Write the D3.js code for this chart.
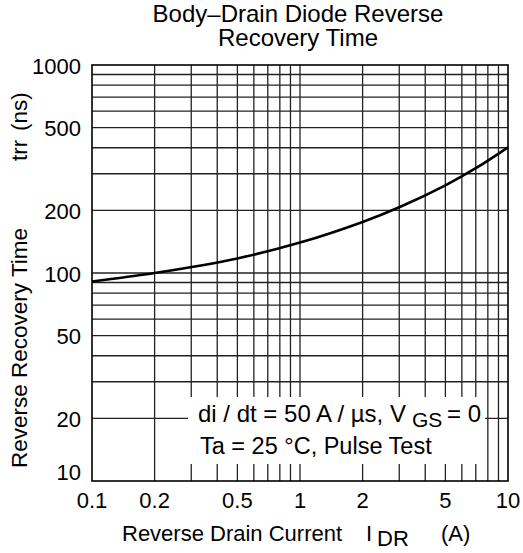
<!DOCTYPE html>
<html>
<head>
<meta charset="utf-8">
<script src="https://cdn.jsdelivr.net/npm/d3@7"></script>
<style>
  body { margin: 0; background: #fff; }
  svg text { font-family: 'Liberation Sans', Arial, sans-serif; fill: #000; white-space: pre; }
</style>
</head>
<body>
<div id="chart"></div>
<script>
// reverse drain current (A) vs reverse recovery time (ns)
const idr = [0.1, 0.2, 0.5, 1, 2, 3, 5, 7, 10]
const trr = [91, 100, 117.5, 140, 176, 207, 264, 319, 402]

const xTickValues = [0.1, 0.2, 0.5, 1, 2, 5, 10]
const yTickValues = [10, 20, 50, 100, 200, 500, 1000]

const width = 523
const height = 553
const plot = { left: 92, right: 508, top: 65, bottom: 481 }

const svg = d3.select('#chart').append('svg')
  .attr('width', width)
  .attr('height', height)

const x = d3.scaleLog().domain([0.1, 10]).range([plot.left, plot.right])
const y = d3.scaleLog().domain([10, 1000]).range([plot.bottom, plot.top])

// grid
const grid = svg.append('g').attr('stroke', '#222').attr('stroke-width', 1.3)
x.ticks().filter(v => v > 0.1 && v < 10).forEach(v => {
  grid.append('line').attr('x1', x(v)).attr('x2', x(v)).attr('y1', plot.top).attr('y2', plot.bottom)
})
y.ticks().filter(v => v > 10 && v < 1000).forEach(v => {
  grid.append('line').attr('y1', y(v)).attr('y2', y(v)).attr('x1', plot.left).attr('x2', plot.right)
})

// curve
const line = d3.line()
  .x((d, i) => x(idr[i]))
  .y(d => y(d))
  .curve(d3.curveCatmullRom.alpha(0.5))
svg.append('path')
  .datum(trr)
  .attr('d', line)
  .attr('fill', 'none')
  .attr('stroke', '#000')
  .attr('stroke-width', 2.6)

// box behind the conditions text
svg.append('rect')
  .attr('x', 188).attr('y', 397)
  .attr('width', 297).attr('height', 67)
  .attr('fill', '#fff')

svg.append('rect')
  .attr('x', plot.left).attr('y', plot.top)
  .attr('width', plot.right - plot.left).attr('height', plot.bottom - plot.top)
  .attr('fill', 'none').attr('stroke', '#000').attr('stroke-width', 1.6)

const tickFs = 22

// tick labels
svg.append('g').selectAll('text').data(xTickValues).join('text')
  .attr('x', d => x(d)).attr('y', 508)
  .attr('text-anchor', 'middle').attr('font-size', tickFs)
  .text(d => d)

svg.append('g').selectAll('text').data(yTickValues).join('text')
  .attr('x', 81).attr('y', d => y(d) + (d === 10 ? -9 : 1))
  .attr('dy', '0.35em')
  .attr('text-anchor', 'end').attr('font-size', tickFs)
  .text(d => d)

// title
svg.append('text').attr('x', 298).attr('y', 22).attr('text-anchor', 'middle').attr('font-size', 24)
  .text('Body\u2013Drain Diode Reverse')
svg.append('text').attr('x', 298).attr('y', 46).attr('text-anchor', 'middle').attr('font-size', 24)
  .text('Recovery Time')

// x label
svg.append('text').attr('x', 122).attr('y', 541).attr('font-size', 22).text('Reverse Drain Current')
svg.append('text').attr('x', 366).attr('y', 541).attr('font-size', 22).text('I')
svg.append('text').attr('x', 377).attr('y', 546).attr('font-size', 22).text('DR')
svg.append('text').attr('x', 441).attr('y', 541).attr('font-size', 22).text('(A)')

// y label
const yl = svg.append('g').attr('transform', 'translate(27,0) rotate(-90)')
yl.append('text').attr('x', -468).attr('font-size', 22.5).text('Reverse Recovery Time')
yl.append('text').attr('x', -161).attr('font-size', 22.5).text('trr')
yl.append('text').attr('x', -131).attr('font-size', 22.5).text('(ns)')

// conditions
svg.append('text').attr('x', 198).attr('y', 422).attr('font-size', 24).text('di / dt = 50 A / \u00b5s, V')
svg.append('text').attr('x', 412).attr('y', 427).attr('font-size', 21).text('GS')
svg.append('text').attr('x', 447).attr('y', 422).attr('font-size', 24).text('= 0')
svg.append('text').attr('x', 200).attr('y', 454).attr('font-size', 23.5)
  .text('Ta = 25 \u00b0C, Pulse Test')
</script>
</body>
</html>
